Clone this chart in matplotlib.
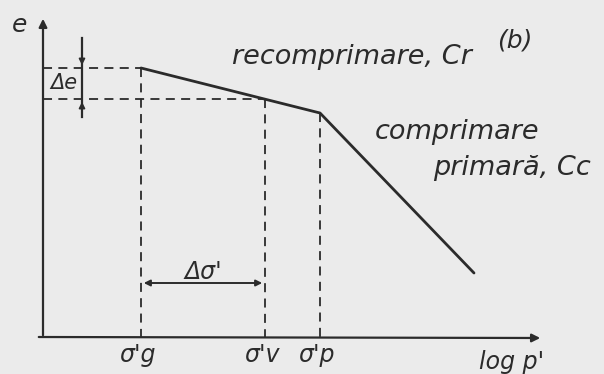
import matplotlib.pyplot as plt

# compression curve: e versus log p'
log_p = [141, 320, 474]        # sigma'g, sigma'p, end of virgin line
e_curve = [306, 261, 101]
sig_labels = ["σ'g", "σ'v", "σ'p"]
sig_x = [141, 265, 320]
e_v = 275                      # void ratio at sigma'v

ink = '#2b2b2b'
bg = '#ebebeb'

fig = plt.figure(figsize=(6.04, 3.74), dpi=100, facecolor=bg)
ax = fig.add_axes([0, 0, 1, 1])
ax.set_xlim(0, 604)
ax.set_ylim(0, 374)
ax.axis('off')
ax.set_facecolor(bg)

# axes with arrows
ax.annotate('', xy=(43, 358), xytext=(43, 36),
            arrowprops=dict(arrowstyle='-|>', color=ink, lw=1.6, mutation_scale=12))
ax.annotate('', xy=(543, 36), xytext=(36, 37),
            arrowprops=dict(arrowstyle='-|>', color=ink, lw=1.6, mutation_scale=12))

# e - log p' curve
ax.plot(log_p, e_curve, color=ink, lw=2.0, solid_capstyle='round')

dash = dict(color=ink, lw=1.3, linestyle=(0, (5, 3.5)))
# horizontal guides for delta e
ax.plot([43, log_p[0]], [e_curve[0], e_curve[0]], **dash)
ax.plot([43, sig_x[1]], [e_v, e_v], **dash)
# vertical guides down to the stress axis
ax.plot([sig_x[0], sig_x[0]], [e_curve[0], 37], **dash)
ax.plot([sig_x[1], sig_x[1]], [e_v, 37], **dash)
ax.plot([sig_x[2], sig_x[2]], [e_curve[1], 37], **dash)

# delta e dimension
ax.plot([82, 82], [336, 257], color=ink, lw=1.6)
ax.annotate('', xy=(82, e_curve[0]), xytext=(82, 330),
            arrowprops=dict(arrowstyle='-|>', color=ink, lw=1.2, mutation_scale=9))
ax.annotate('', xy=(82, e_v), xytext=(82, 262),
            arrowprops=dict(arrowstyle='-|>', color=ink, lw=1.2, mutation_scale=9))

# delta sigma' dimension
ax.annotate('', xy=(sig_x[0], 91), xytext=(sig_x[1], 91),
            arrowprops=dict(arrowstyle='<|-|>', color=ink, lw=1.4, mutation_scale=9))

txt = dict(color=ink, style='italic', family='DejaVu Sans')
ax.text(20, 349, 'e', fontsize=18, ha='center', va='center', **txt)
ax.text(64, 291, 'Δe', fontsize=15, ha='center', va='center', **txt)
ax.text(232, 317, 'recomprimare, Cr', fontsize=19.5, ha='left', va='center', **txt)
ax.text(515, 334, '(b)', fontsize=18, ha='center', va='center', **txt)
ax.text(375, 242, 'comprimare', fontsize=19.5, ha='left', va='center', **txt)
ax.text(433, 206, 'primară, Cc', fontsize=19.5, ha='left', va='center', **txt)
ax.text(203, 102, "Δσ'", fontsize=17, ha='center', va='center', **txt)
for x, lab in zip(sig_x, sig_labels):
    ax.text(x - 3, 19, lab, fontsize=17, ha='center', va='center', **txt)
ax.text(512, 12, "log p'", fontsize=17, ha='center', va='center', **txt)

fig.savefig('out.png', dpi=100, facecolor=bg)
